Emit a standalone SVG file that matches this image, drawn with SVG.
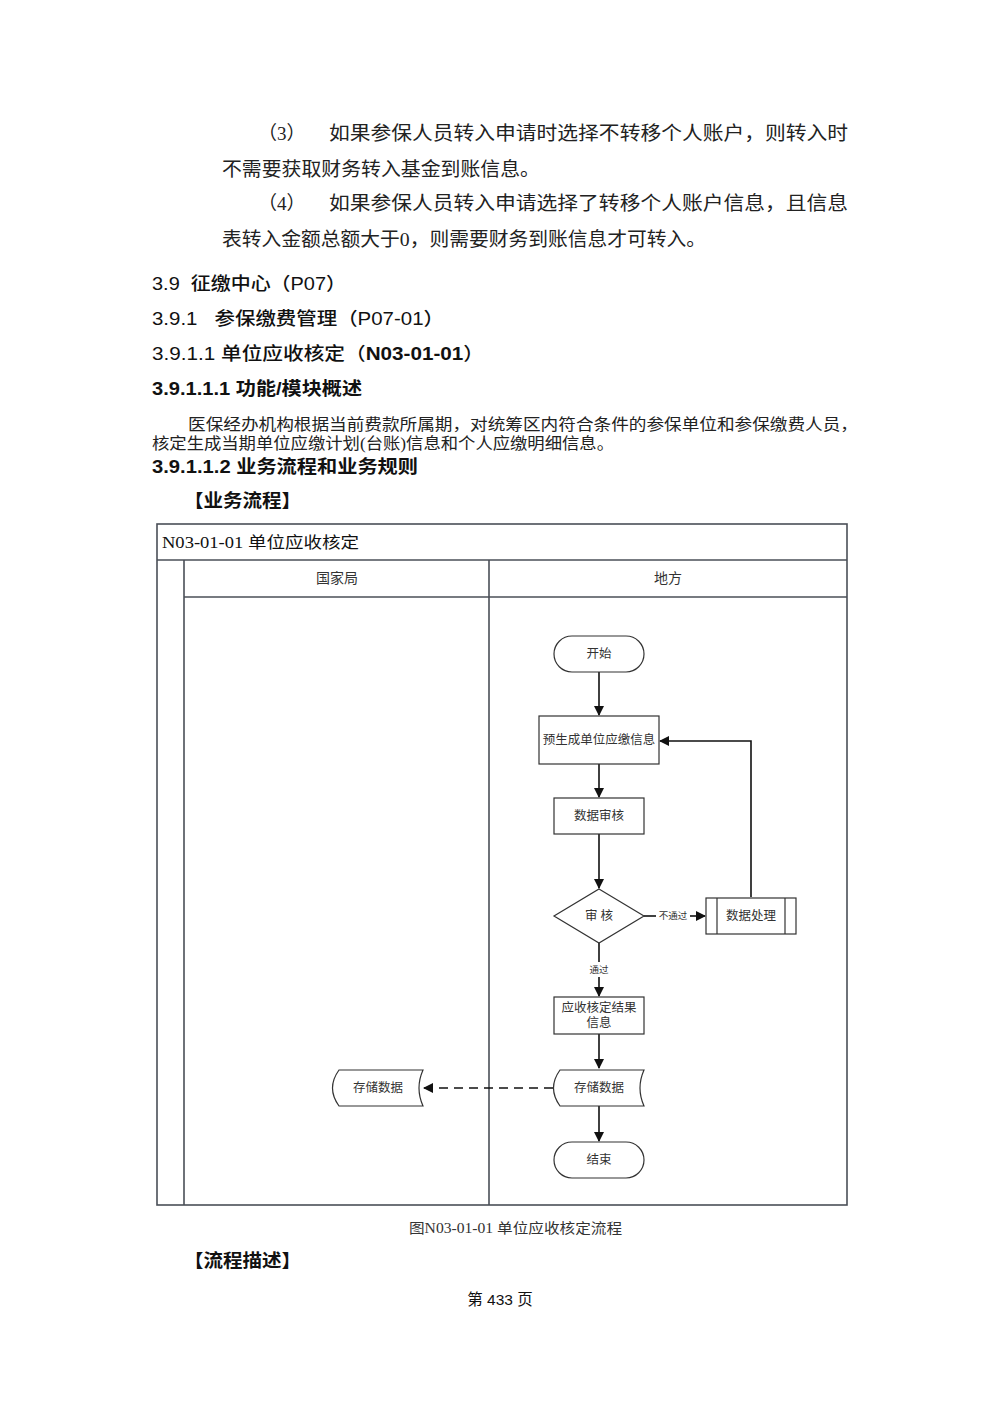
<svg xmlns="http://www.w3.org/2000/svg" width="1000" height="1415" viewBox="0 0 1000 1415">
<style>
.body{font-family:"Liberation Serif","Noto Sans CJK SC",serif;font-size:19px;fill:#222}
.hd{font-family:"Liberation Sans","Noto Sans CJK SC",sans-serif;font-size:18px;font-weight:500;fill:#111;white-space:pre}
.hb{font-family:"Liberation Sans","Noto Sans CJK SC",sans-serif;font-size:18px;font-weight:bold;fill:#111}
.para{font-family:"Liberation Serif","Noto Sans CJK SC",serif;font-size:16px;fill:#222}
.pg{font-family:"Liberation Sans","Noto Sans CJK SC",sans-serif;font-size:15.5px;fill:#111;text-anchor:middle;white-space:pre}
.frame{fill:none;stroke:#4a4f57;stroke-width:1.6}
.lane{font-family:"Liberation Serif","Noto Sans CJK SC",serif;font-size:14px;fill:#333;text-anchor:middle}
.title{font-family:"Liberation Serif","Noto Sans CJK SC",serif;font-size:16px;fill:#111}
.cap{font-family:"Liberation Serif","Noto Sans CJK SC",serif;font-size:14px;fill:#333}
.node{fill:#fff;stroke:#333;stroke-width:1.2}
.nt{font-family:"Liberation Serif","Noto Sans CJK SC",serif;font-size:12.5px;fill:#333;text-anchor:middle}
.lbl{font-family:"Liberation Serif","Noto Sans CJK SC",serif;font-size:9.5px;fill:#333;text-anchor:middle}
.con{fill:none;stroke:#111;stroke-width:1.6}
.dash{stroke-dasharray:9 6}
</style>
<defs>
<marker id="ah" markerWidth="10" markerHeight="10" refX="9" refY="5" orient="auto" markerUnits="userSpaceOnUse">
<path d="M0,0 L10,5 L0,10 Z" fill="#111"/>
</marker>
</defs>
<rect width="1000" height="1415" fill="#fff"/>

<g id="page-text">
<text class="body" x="258" y="140">（3）</text>
<text class="body" x="329" y="140" textLength="519" lengthAdjust="spacingAndGlyphs">如果参保人员转入申请时选择不转移个人账户，则转入时</text>
<text class="body" x="222" y="176" textLength="318" lengthAdjust="spacingAndGlyphs">不需要获取财务转入基金到账信息。</text>
<text class="body" x="258" y="210">（4）</text>
<text class="body" x="329" y="210" textLength="519" lengthAdjust="spacingAndGlyphs">如果参保人员转入申请选择了转移个人账户信息，且信息</text>
<text class="body" x="222" y="246" textLength="484" lengthAdjust="spacingAndGlyphs">表转入金额总额大于0，则需要财务到账信息才可转入。</text>

<text class="hd" x="152" y="290" textLength="194" lengthAdjust="spacingAndGlyphs">3.9  征缴中心（P07）</text>
<text class="hd" x="152" y="325" textLength="292" lengthAdjust="spacingAndGlyphs">3.9.1   参保缴费管理（P07-01）</text>
<text class="hd" x="152" y="360" textLength="332" lengthAdjust="spacingAndGlyphs">3.9.1.1 单位应收核定（<tspan font-weight="bold">N03-01-01</tspan>）</text>
<text class="hb" x="152" y="395" textLength="210" lengthAdjust="spacingAndGlyphs">3.9.1.1.1 功能/模块概述</text>
<text class="para" x="188" y="430" textLength="670" lengthAdjust="spacingAndGlyphs">医保经办机构根据当前费款所属期，对统筹区内符合条件的参保单位和参保缴费人员，</text>
<text class="para" x="152" y="449" textLength="462" lengthAdjust="spacingAndGlyphs">核定生成当期单位应缴计划(台账)信息和个人应缴明细信息。</text>
<text class="hb" x="152" y="473" textLength="266" lengthAdjust="spacingAndGlyphs">3.9.1.1.2 业务流程和业务规则</text>
<text class="hb" x="184" y="507" textLength="117" lengthAdjust="spacingAndGlyphs">【业务流程】</text>

<text class="cap" x="409" y="1233" textLength="213" lengthAdjust="spacingAndGlyphs">图N03-01-01 单位应收核定流程</text>
<text class="hb" x="184" y="1267" textLength="117" lengthAdjust="spacingAndGlyphs">【流程描述】</text>
<text class="pg" x="500" y="1305">第 433 页</text>
</g>

<g id="frame">
<rect class="frame" x="157" y="524" width="690" height="681"/>
<line class="frame" x1="157" y1="560" x2="847" y2="560"/>
<line class="frame" x1="184" y1="597" x2="847" y2="597"/>
<line class="frame" x1="184" y1="560" x2="184" y2="1205"/>
<line class="frame" x1="489" y1="560" x2="489" y2="1205"/>
<text class="title" x="162" y="548" textLength="197" lengthAdjust="spacingAndGlyphs">N03-01-01 单位应收核定</text>
<text class="lane" x="337" y="583">国家局</text>
<text class="lane" x="668" y="583">地方</text>
</g>

<g id="connectors">
<line class="con" x1="599" y1="672" x2="599" y2="715" marker-end="url(#ah)"/>
<line class="con" x1="599" y1="764" x2="599" y2="797" marker-end="url(#ah)"/>
<line class="con" x1="599" y1="834" x2="599" y2="888" marker-end="url(#ah)"/>
<line class="con" x1="644" y1="916" x2="656" y2="916"/>
<line class="con" x1="690" y1="916" x2="705" y2="916" marker-end="url(#ah)"/>
<text class="lbl" x="673" y="919">不通过</text>
<polyline class="con" points="751,897 751,741 660,741" marker-end="url(#ah)"/>
<line class="con" x1="599" y1="943" x2="599" y2="962"/>
<line class="con" x1="599" y1="977" x2="599" y2="996" marker-end="url(#ah)"/>
<text class="lbl" x="599" y="973">通过</text>
<line class="con" x1="599" y1="1034" x2="599" y2="1068" marker-end="url(#ah)"/>
<line class="con" x1="599" y1="1106" x2="599" y2="1141" marker-end="url(#ah)"/>
<line class="con dash" x1="553" y1="1088" x2="424" y2="1088" marker-end="url(#ah)"/>
</g>

<g id="n-start">
<rect class="node" x="554" y="636" width="90" height="36" rx="18"/>
<text class="nt" x="599" y="658">开始</text>
</g>
<g id="n-pregen">
<rect class="node" x="539" y="716" width="120" height="48"/>
<text class="nt" x="599" y="744">预生成单位应缴信息</text>
</g>
<g id="n-audit">
<rect class="node" x="554" y="798" width="90" height="36"/>
<text class="nt" x="599" y="820">数据审核</text>
</g>
<g id="n-decision">
<polygon class="node" points="599,889 644,916 599,943 554,916"/>
<text class="nt" x="599" y="920">审 核</text>
</g>
<g id="n-process">
<rect class="node" x="706" y="898" width="90" height="36"/>
<line class="node" x1="717" y1="898" x2="717" y2="934"/>
<line class="node" x1="785" y1="898" x2="785" y2="934"/>
<text class="nt" x="751" y="920">数据处理</text>
</g>
<g id="n-result">
<rect class="node" x="554" y="997" width="90" height="37"/>
<text class="nt" x="599" y="1012">应收核定结果</text>
<text class="nt" x="599" y="1027">信息</text>
</g>
<g id="n-store-local">
<path class="node" d="M560,1070 L644,1070 Q636,1088 644,1106 L560,1106 Q547,1088 560,1070 Z"/>
<text class="nt" x="599" y="1092">存储数据</text>
</g>
<g id="n-store-nat">
<path class="node" d="M339,1070 L423,1070 Q415,1088 423,1106 L339,1106 Q326,1088 339,1070 Z"/>
<text class="nt" x="378" y="1092">存储数据</text>
</g>
<g id="n-end">
<rect class="node" x="554" y="1142" width="90" height="36" rx="18"/>
<text class="nt" x="599" y="1164">结束</text>
</g>
</svg>
